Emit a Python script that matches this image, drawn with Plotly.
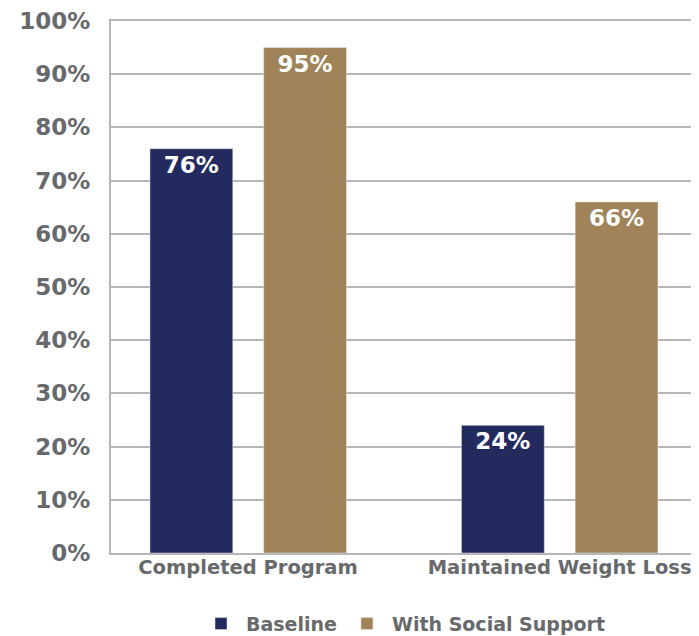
import plotly.graph_objects as go

categories = ["Completed Program", "Maintained Weight Loss"]
baseline = [76, 24]
social = [95, 66]
tick_vals = [0, 10, 20, 30, 40, 50, 60, 70, 80, 90, 100]
tick_text = [f"{v}%" for v in tick_vals]

NAVY = "#222a5e"
TAN = "#a08359"
GRAY = "#68696b"
GRID = "#b5b6b9"
FONT = "DejaVu Sans"

fig = go.Figure()
fig.add_trace(go.Bar(
    name="Baseline", x=[0, 1], y=baseline, marker_color=NAVY,
    width=0.266, offset=-0.315,
    text=[f"{v}%" for v in baseline], textposition="inside",
    insidetextanchor="end",
    textfont=dict(color="white", size=23, family=FONT, weight="bold"),
))
fig.add_trace(go.Bar(
    name="With Social Support", x=[0, 1], y=social, marker_color=TAN,
    width=0.266, offset=0.05,
    text=[f"{v}%" for v in social], textposition="inside",
    insidetextanchor="end",
    textfont=dict(color="white", size=23, family=FONT, weight="bold"),
))

# page body has an ~8px margin, so the figure is sized/shifted to compensate
fig.update_layout(
    width=691, height=628,
    margin=dict(l=103, r=3, t=13, b=83, autoexpand=False),
    plot_bgcolor="white", paper_bgcolor="white",
    font=dict(family=FONT, color=GRAY),
    showlegend=True,
    legend=dict(orientation="h", x=0.5, xanchor="center", y=-0.133, yanchor="middle",
                itemwidth=40,
                font=dict(size=19, family=FONT, color=GRAY, weight="bold"),
                traceorder="normal"),
    xaxis=dict(range=[-0.44, 1.438], tickmode="array", tickvals=[0, 1], ticktext=categories,
               tickfont=dict(size=19.5, family=FONT, color=GRAY, weight="bold"),
               showgrid=False, showline=True, linecolor=GRID, linewidth=2, mirror=True,
               ticks="", ticklabelstandoff=-4, zeroline=False, automargin=False,
               ticklabeloverflow="allow"),
    yaxis=dict(range=[0, 100], tickmode="array", tickvals=tick_vals, ticktext=tick_text,
               tickfont=dict(size=23, family=FONT, color=GRAY, weight="bold"),
               showgrid=True, gridcolor=GRID, gridwidth=2,
               showline=True, linecolor=GRID, linewidth=2, mirror=True,
               ticks="", ticklabelstandoff=14, zeroline=False, automargin=False,
               ticklabeloverflow="allow"),
)

fig.write_html("out.html")
